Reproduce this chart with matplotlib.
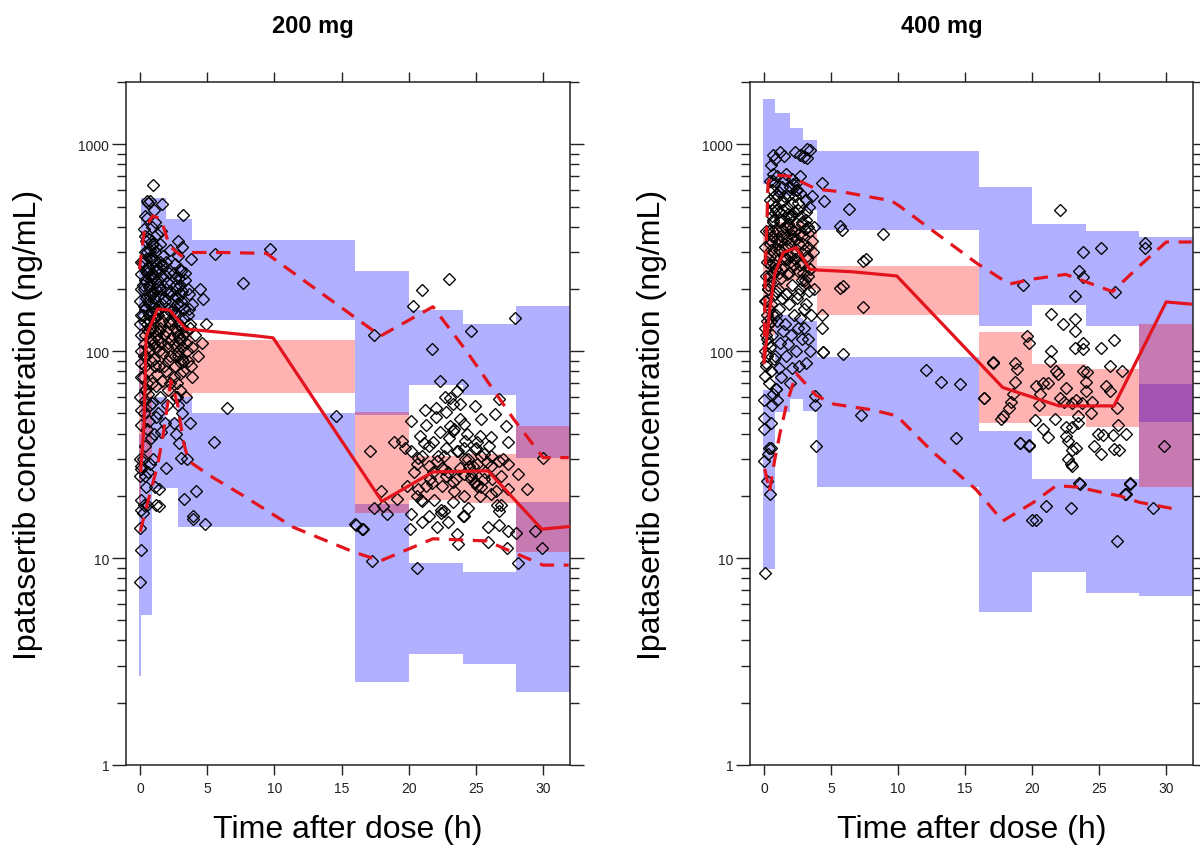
import matplotlib
matplotlib.use("Agg")
import matplotlib.pyplot as plt
from matplotlib.ticker import LogLocator, NullFormatter, FixedLocator, FixedFormatter

plt.rcParams['font.family'] = ['Liberation Sans', 'DejaVu Sans']

# ---------------- 200 mg ----------------
bin_edges_200 = [-0.05, 0.08, 0.85, 1.9, 2.85, 3.9, 16, 20, 24, 28, 32]
# 95% CI of the simulated 95th percentile
up_hi_200 = [270, 553, 553, 434, 434, 344, 245, 158, 135, 165]
up_lo_200 = [60, 150, 160, 150, 140, 141, 49, 69, 61.5, 30.6]
# 95% CI of the simulated median
md_hi_200 = [110, 130, 150, 140, 130, 113, 51, 31, 32, 43.6]
md_lo_200 = [18, 30, 65, 60, 60, 63, 16.6, 19, 18.5, 10.7]
# 95% CI of the simulated 5th percentile
lo_hi_200 = [40, 60, 60, 47, 60, 50, 18.2, 9.5, 8.6, 18.6]
lo_lo_200 = [2.7, 5.3, 21.5, 21.8, 14.1, 14.1, 2.53, 3.44, 3.07, 2.25]

# observed percentiles
med_t_200 = [0.05, 0.3, 0.45, 1.3, 2.2, 3.4, 6.2, 8.7, 9.9, 18.0, 21.8, 25.9, 29.9, 31.9]
med_c_200 = [26.5, 45, 118, 160, 158, 128, 123, 118.5, 116, 18.8, 26.1, 26.4, 13.8, 14.2]
p95_t_200 = [-0.05, 0.32, 0.94, 1.56, 2.18, 3.05, 3.9, 6.1, 9.4, 17.9, 21.8, 24.3, 27.8, 30.0, 31.9]
p95_c_200 = [249, 388, 451, 434, 323, 289, 300, 300, 297, 118.5, 164, 100, 47, 30.6, 30.6]
p05_t_200 = [0.0, 0.6, 1.3, 1.7, 2.3, 2.8, 3.2, 3.6, 5.2, 7.7, 11.4, 15.9, 17.9, 21.8, 25.8, 30.0, 31.9]
p05_c_200 = [13.4, 19, 28, 39, 72, 55, 37, 29.5, 25, 20, 14.1, 10.7, 9.7, 12.4, 12.1, 9.25, 9.25]

# observed concentrations, first hours after dose
early_t_200 = [
    0.02, 0.05, 0.0, 0.08, 0.03, 0.0, 0.06, 0.1, 0.01, 0.04, 0.09, 0.0, 0.07, 0.03, 0.1, 0.05, 0.0, 0.08, 0.02, 0.06, 0.04, 0.1,
    0.22, 0.3, 0.45, 0.35, 0.25, 0.4, 0.5, 0.28, 0.33, 0.47, 0.21, 0.38, 0.44, 0.26, 0.36, 0.49, 0.23, 0.31, 0.42, 0.27, 0.39, 0.46, 0.24, 0.34, 0.41, 0.29, 0.35, 0.48,
    0.55, 0.6, 0.7, 0.82, 0.65, 0.75, 0.58, 0.88, 0.62, 0.78, 0.68, 0.85, 0.57, 0.72, 0.8, 0.63, 0.9, 0.66, 0.77, 0.59, 0.83, 0.71, 0.64, 0.86, 0.5, 0.6, 0.7,
    1.19, 1.1, 0.95, 1.05, 1.2, 0.92, 1.15, 1.25, 1.0, 1.08, 1.22, 0.97, 1.12, 1.28, 1.02, 1.18, 0.94, 1.24, 1.06, 1.14, 0.99, 1.27, 1.1, 1.03, 0.99,
    1.44, 1.44, 1.56, 1.35, 1.5, 1.62, 1.4, 1.7, 1.55, 1.38, 1.66, 1.48, 1.75, 1.42, 1.6, 1.52, 1.68, 1.46, 1.58, 1.6,
    1.94, 1.85, 2.0, 2.1, 1.9, 2.2, 2.05, 1.95, 2.15, 2.3, 1.88, 2.25, 2.02, 2.12, 1.92, 2.2,
    3.05, 2.9, 2.7, 2.55, 3.1, 2.8, 2.65, 3.0, 2.75, 2.95, 2.6, 3.15, 2.85, 2.5, 3.05, 2.72, 2.9, 3.2, 2.62, 2.98, 2.78, 3.1, 2.68, 2.88, 3.02, 2.58, 2.82, 3.12, 2.85, 3.2,
    3.3, 3.92, 3.92, 3.5, 3.7, 3.4, 3.85, 3.6, 3.45, 3.75, 3.55, 3.9, 3.65, 3.35, 3.8,
    4.84, 4.17, 5.5, 6.45, 4.3, 4.6, 4.1, 4.9, 4.7, 4.47, 5.6,
    0.25, 0.4, 0.55, 0.7, 0.85, 1.0, 1.15, 1.3, 1.45, 0.3, 0.45, 0.6, 0.75, 0.9, 1.05, 1.2, 1.35, 1.5, 0.35, 0.5, 0.65,
    0.8, 0.95, 1.1, 1.25, 1.4, 0.28, 0.42, 0.58, 0.72, 0.88, 1.02, 1.18, 1.32, 1.48, 0.38, 0.52, 0.68, 0.82, 0.98, 1.12, 1.28,
    2.45, 2.6, 2.75, 2.9, 3.05, 3.2, 2.5, 2.65, 2.8, 2.95, 3.1, 3.25, 2.55, 2.7, 2.85, 3.0, 3.15, 2.48, 2.62, 2.78, 2.92,
    3.08, 3.22, 2.58, 2.72, 2.88, 3.02, 3.18,
    1.65, 1.8, 1.95, 2.1, 2.25, 1.7, 1.85, 2.0, 2.15, 2.3, 1.75, 1.9, 2.05, 2.2,
    3.35, 3.5, 3.65, 3.8, 3.45, 3.6, 3.75, 3.9,
]
early_c_200 = [
    7.7, 11, 14, 17, 19, 25, 27, 28, 30, 44, 52, 60, 75, 88, 100, 120, 135, 150, 175, 200, 235, 270,
    16.6, 18, 22, 25, 30, 35, 42, 50, 58, 66, 75, 85, 95, 108, 120, 135, 150, 165, 180, 200, 220, 245, 270, 300, 340, 390, 450, 530,
    18, 26, 28.5, 38, 46, 55, 62, 70, 80, 90, 100, 112, 125, 140, 155, 170, 190, 210, 230, 255, 280, 310, 350, 400, 440, 520, 532,
    18, 22, 30, 40, 48, 56, 68, 78, 92, 105, 118, 130, 145, 160, 180, 200, 225, 250, 275, 300, 330, 370, 420, 480, 636,
    21.5, 17.9, 40.6, 50, 60, 72, 85, 98, 110, 125, 140, 160, 180, 205, 230, 260, 290, 330, 380, 513,
    27.4, 45, 55, 65, 80, 95, 110, 125, 140, 155, 175, 195, 215, 240, 270, 310,
    30.6, 36, 40, 45, 50, 55, 60, 65, 70, 78, 85, 92, 100, 108, 115, 125, 135, 145, 155, 168, 180, 195, 210, 225, 245, 265, 290, 320, 341, 456,
    19.3, 16, 15.5, 30, 45, 60, 75, 90, 110, 130, 150, 170, 190, 220, 280,
    14.6, 21.1, 36.3, 53.4, 95, 110, 120, 135, 178, 199, 294,
    210, 160, 240, 130, 190, 110, 260, 150, 200, 95, 280, 175, 115, 240, 145, 320, 185, 130, 360, 70, 205,
    290, 165, 125, 215, 100, 140, 250, 105, 185, 330, 230, 155, 115, 270, 65, 300, 150, 220, 195, 85, 245,
    160, 130, 200, 110, 175, 90, 240, 150, 95, 210, 130, 160, 75, 185, 120, 250, 105, 140, 95, 170, 115,
    190, 80, 225, 60, 135, 88, 120,
    170, 120, 230, 90, 135, 260, 150, 105, 190, 115, 85, 200, 160, 70,
    240, 100, 160, 85, 125, 200, 135, 105,
]
# observed concentrations, later samples
late_t_200 = [
    7.65, 9.7, 14.6, 16.0, 16.1, 16.5, 16.6, 17.1, 17.25, 17.4, 17.4, 17.9, 18.1, 18.4, 18.9, 19.1, 19.5, 19.7, 19.9, 20.1,
    20.2, 20.2, 20.2, 20.35, 20.6, 20.6, 20.7, 20.7, 20.8, 21.0, 21.0, 21.0, 21.0, 21.3, 21.5, 21.5, 21.5, 21.7, 21.8, 21.8,
    22.1, 22.1, 22.3, 22.3, 22.4, 22.5, 22.5, 22.6, 22.8, 22.8, 22.8, 22.9, 23.0, 23.1, 23.1, 23.3, 23.3, 23.3, 23.6, 23.6,
    23.6, 23.7, 23.8, 23.8, 23.95, 24.1, 24.1, 24.1, 24.1, 24.3, 24.4, 24.4, 24.6, 24.6, 24.9, 24.9, 24.9, 25.1, 25.1, 25.1,
    25.4, 25.4, 25.6, 25.9, 25.9, 26.1, 26.1, 26.1, 26.4, 26.7, 26.7, 26.7, 26.7, 27.2, 27.3, 27.4, 27.4, 27.4, 27.4, 27.9,
    28.0, 28.1, 28.1, 28.8, 29.4, 29.9, 30.0, 22.0, 23.4, 24.7, 25.3, 21.2, 26.9, 22.6, 24.2,
    20.4, 20.9, 21.3, 21.7, 22.2, 22.6, 23.0, 23.4, 23.8, 24.2, 24.6, 25.0, 25.4, 25.8, 26.2, 26.6, 27.0, 20.6, 21.1, 21.6,
    22.0, 22.4, 22.9, 23.3, 23.7, 24.1, 24.5, 24.9, 25.3, 25.7, 26.1, 26.5, 26.9, 21.9, 23.5, 24.8, 25.6, 22.7, 24.0, 26.0,
]
late_c_200 = [
    213, 311, 48.4, 14.6, 14.5, 13.8, 13.8, 33, 9.7, 120, 17.4, 21.1, 17.9, 16.3, 36.3, 19.3, 37, 34.2, 22.3, 13.8,
    46.1, 33, 16.3, 165, 28.5, 9.0, 30.6, 21.5, 39, 31.3, 18.9, 14.9, 198, 22.3, 34.8, 28, 16, 103, 36.3, 26,
    29.5, 14.1, 72, 40.5, 16.5, 27.4, 22.3, 16.9, 50.6, 34.2, 25, 14.9, 223, 59.6, 43.6, 55.5, 23.2, 18.6, 64, 33,
    13.1, 11.7, 55.5, 27.4, 69, 44.4, 34.2, 25.5, 16, 39.8, 30.1, 17.4, 24.1, 125, 54.4, 33.6, 23.2, 36.3, 28.5, 22.3,
    46.9, 31.3, 24.1, 14.1, 11.9, 38.3, 28, 20.4, 49.5, 58.7, 29.5, 16.9, 14.4, 43.6, 11.2, 36.3, 28.5, 21.5, 13.5, 144,
    13.2, 25.5, 9.5, 21.5, 13.5, 11.2, 30.6, 48, 42, 26, 20, 52, 18, 31, 37,
    26, 19, 44, 23, 31, 27, 38, 21, 47, 30, 25, 34, 22, 29, 24, 18, 30, 20, 36, 24,
    53, 17, 26, 41, 33, 20, 28, 23, 39, 26, 31, 21, 25, 19, 24, 28, 32, 60, 16, 35,
]

# ---------------- 400 mg ----------------
bin_edges_400 = [-0.05, 0.85, 1.94, 2.88, 3.92, 16, 20, 24, 28, 32]
up_hi_400 = [1650, 1413, 1194, 1045, 929, 625, 411, 379, 357]
up_lo_400 = [640, 560, 560, 480, 385, 133, 167, 133, 45.6]
md_hi_400 = [390, 420, 420, 380, 257, 124, 86.5, 81.9, 135]
md_lo_400 = [120, 200, 220, 200, 149, 45.2, 48.7, 42.8, 22]
lo_hi_400 = [65, 150, 145, 140, 93.3, 41.2, 24.1, 24.1, 69.3]
lo_lo_400 = [8.85, 50.6, 59, 51.5, 22, 5.46, 8.59, 6.78, 6.53]

med_t_400 = [0.0, 0.45, 0.82, 1.44, 2.4, 3.4, 3.9, 6.6, 9.9, 17.8, 22.0, 26.1, 30.0, 31.8]
med_c_400 = [88, 165, 240, 300, 317, 249, 247, 242, 231, 66.8, 54.4, 54.4, 173, 169]
p95_t_400 = [0.0, 0.1, 0.3, 0.6, 1.8, 2.9, 3.9, 5.9, 9.5, 10.1, 15.8, 18.3, 20.0, 22.5, 23.8, 26.0, 28.0, 30.0, 31.9]
p95_c_400 = [90, 250, 650, 710, 703, 653, 607, 588, 533, 503, 268, 211, 223, 235, 219, 194, 258, 337, 337]
p05_t_400 = [0.05, 0.4, 0.8, 1.2, 1.7, 2.4, 3.9, 5.2, 8.1, 9.9, 12.6, 15.8, 17.8, 20.1, 21.8, 23.5, 25.0, 26.5, 28.0, 31.0]
p05_c_400 = [27, 21, 30, 40.5, 56, 78, 61, 55.5, 52, 48.7, 32.5, 21.5, 15.1, 18.6, 22.4, 22, 20.9, 20, 18.6, 17.1]

early_t_400 = [
    0.1, 0.45, 0.2, 0.55, 0.3, 0.0, 0.0, 0.0, 0.0, 0.1, 0.9, 0.15, 0.05, 0.25, 0.1, 0.2, 0.05, 0.28, 0.12, 0.22, 0.08, 0.18,
    0.35, 0.5, 0.62, 0.7, 0.4, 0.55, 0.75, 0.45, 0.6, 0.38, 0.68, 0.52, 0.78, 0.42, 0.65, 0.58, 0.72, 0.48, 0.36, 0.66, 0.56, 0.44, 0.6, 0.7, 0.5, 0.64,
    1.0, 0.9, 1.3, 1.1, 0.85, 1.2, 1.4, 0.95, 1.15, 1.35, 1.05, 1.25, 0.88, 1.45, 1.12, 1.0, 1.32, 1.22, 0.92, 1.38, 1.08, 0.45, 0.7, 0.82, 1.2,
    1.9, 2.1, 1.6, 1.75, 2.0, 1.55, 2.2, 1.85, 1.65, 2.05, 1.7, 2.25, 1.95, 1.58, 2.15, 1.8, 2.0, 1.68, 2.28, 1.9, 2.1, 1.5, 2.3,
    2.6, 2.4, 2.8, 2.5, 2.7, 2.95, 2.45, 2.65, 2.85, 2.55, 2.75, 2.4, 2.9, 2.6, 2.8, 2.1, 2.5, 2.7, 2.35, 2.95, 2.65,
    3.1, 3.4, 3.25, 3.0, 3.5, 3.15, 3.35, 3.05, 3.45, 3.2, 3.55, 3.3, 3.1, 3.6, 3.2, 3.4, 3.2,
    3.9, 3.8, 3.8, 4.4, 4.3, 4.3, 3.7, 3.65, 3.75, 4.5, 4.3,
    5.9, 7.4, 5.7, 5.9, 7.4, 7.6, 8.9, 5.8, 5.7, 6.3, 7.2, 4.4, 12.1, 13.2, 14.6, 14.3,
    0.15, 0.3, 0.45, 0.6, 0.75, 0.2, 0.35, 0.5, 0.65, 0.8, 0.25, 0.4, 0.55, 0.7, 0.12, 0.28, 0.42, 0.58, 0.72, 0.18, 0.32, 0.48, 0.62, 0.78,
    0.85, 1.0, 1.15, 1.3, 1.45, 0.9, 1.05, 1.2, 1.35, 1.5, 0.95, 1.1, 1.25, 1.4, 1.55, 0.88, 1.02, 1.18, 1.32, 1.48,
    1.6, 1.75, 1.9, 2.05, 2.2, 2.35, 1.65, 1.8, 1.95, 2.1, 2.25, 1.7, 1.85, 2.0, 2.15, 2.3, 1.62, 1.78, 1.92, 2.08,
    2.4, 2.55, 2.7, 2.85, 3.0, 3.15, 3.3, 3.45, 2.45, 2.6, 2.75, 2.9, 3.05, 3.2, 3.35, 2.5, 2.65, 2.8, 2.95, 3.1, 3.25, 3.4,
]
early_c_400 = [
    8.5, 20.5, 23.5, 34.2, 32, 29.5, 42, 47.5, 58, 76, 66, 88, 100, 115, 130, 150, 175, 200, 230, 270, 320, 380,
    34, 45, 55, 62, 70, 80, 92, 105, 120, 135, 150, 170, 190, 215, 240, 270, 300, 340, 380, 430, 480, 540, 600, 666, 790, 890,
    58, 66, 75, 83, 95, 110, 125, 140, 160, 180, 200, 225, 250, 280, 310, 350, 390, 430, 480, 530, 590, 666, 720, 850, 915,
    70, 83, 95, 108, 120, 135, 150, 170, 190, 210, 235, 260, 290, 320, 360, 400, 450, 500, 560, 620, 680, 880, 915,
    85, 100, 115, 130, 145, 160, 180, 200, 220, 245, 270, 300, 330, 370, 410, 460, 520, 580, 650, 870, 890,
    88, 100, 115, 130, 150, 170, 195, 220, 250, 290, 340, 400, 470, 560, 860, 938, 945,
    34.7, 55, 61, 98.6, 130, 149, 200, 300, 400, 532, 649,
    97, 163, 203, 207, 274, 280, 370, 386, 404, 484, 49, 98.6, 81, 71.2, 69.7, 38.1,
    120, 210, 330, 450, 560, 95, 160, 260, 380, 500, 140, 230, 310, 420, 175, 110, 290, 360, 640, 85, 200, 140, 520, 250,
    260, 380, 470, 340, 560, 150, 330, 420, 620, 290, 700, 240, 360, 480, 400, 195, 560, 310, 250, 680,
    280, 410, 330, 520, 380, 600, 190, 560, 440, 300, 470, 350, 240, 390, 640, 280, 720, 460, 270, 350,
    350, 480, 260, 420, 310, 540, 230, 380, 600, 330, 450, 240, 390, 280, 500, 190, 700, 360, 210, 430, 320, 250,
]
late_t_400 = [
    16.4, 16.4, 17.1, 17.1, 17.7, 17.8, 18.3, 18.4, 18.6, 18.75, 18.75, 18.9, 19.1, 19.1, 19.3, 19.6, 19.8, 19.8, 19.8, 20.0,
    20.2, 20.3, 20.3, 20.5, 20.8, 20.8, 21.0, 21.2, 21.2, 21.3, 21.4, 21.4, 21.7, 21.8, 21.9, 22.1, 22.1, 22.3, 22.4, 22.5,
    22.5, 22.5, 22.7, 22.7, 22.9, 22.9, 23.0, 23.0, 23.0, 23.0, 23.2, 23.2, 23.2, 23.2, 23.3, 23.3, 23.4, 23.4, 23.5, 23.5,
    23.6, 23.7, 23.8, 23.8, 23.8, 23.8, 23.8, 24.0, 24.0, 24.1, 24.5, 24.6, 24.9, 25.1, 25.1, 25.1, 25.3, 25.5, 25.8, 25.8,
    26.0, 26.1, 26.1, 26.2, 26.3, 26.3, 26.4, 26.5, 26.7, 26.9, 27.0, 27.0, 27.3, 27.3, 28.4, 28.4, 29.0, 29.8, 20.6, 24.4,
]
late_c_400 = [
    59.6, 59.6, 88.9, 88, 47, 48.4, 53, 57, 62, 88, 71, 82, 35.8, 35.9, 208, 119, 110, 35.2, 35, 15.2,
    46.7, 15.3, 68, 55, 70, 42.2, 17.9, 70, 38.3, 90, 152, 100, 47, 80.5, 78, 482, 59.6, 135, 57, 66.5,
    39, 43, 36.8, 30, 17.4, 28.5, 56, 43, 33.2, 27.9, 185, 143, 125, 104, 34.2, 58.4, 48.7, 45.2, 243, 23,
    22.9, 56, 300, 228, 110, 102, 80.5, 71, 64.5, 79, 57, 35, 40, 317, 104, 31.8, 39.5, 68, 85, 64.5,
    39.5, 113, 33.8, 194, 53.4, 12.1, 44, 33.2, 80.5, 20.3, 40, 20.4, 22.9, 23, 335, 317, 17.5, 34.7, 62, 50,
]

panels = [
    ("200 mg", bin_edges_200, up_hi_200, up_lo_200, md_hi_200, md_lo_200, lo_hi_200, lo_lo_200,
     med_t_200, med_c_200, p95_t_200, p95_c_200, p05_t_200, p05_c_200,
     early_t_200 + late_t_200, early_c_200 + late_c_200),
    ("400 mg", bin_edges_400, up_hi_400, up_lo_400, md_hi_400, md_lo_400, lo_hi_400, lo_lo_400,
     med_t_400, med_c_400, p95_t_400, p95_c_400, p05_t_400, p05_c_400,
     early_t_400 + late_t_400, early_c_400 + late_c_400),
]

x_ticks = [0, 5, 10, 15, 20, 25, 30]
y_ticks = [1, 10, 100, 1000]
y_tick_labels = ["1", "10", "100", "1000"]

BLUE = (0.0, 0.0, 1.0, 0.31)
PINK = (1.0, 0.0, 0.0, 0.30)
LINE_RED = "#E3141E"

fig = plt.figure(figsize=(12, 8.54), dpi=100)
W, H = 1200.0, 854.0
axes_px = [(126, 570), (750, 1193)]
title_x = [313, 942]

for (x0, x1), tx, p in zip(axes_px, title_x, panels):
    (title, edges, uh, ul, mh, ml, lh, ll,
     mt, mc, ht, hc, lt, lc, ot, oc) = p
    ax = fig.add_axes([x0 / W, 1 - 766 / H, (x1 - x0) / W, (766 - 83) / H])
    ax.set_yscale("log")
    widths = [b - a for a, b in zip(edges[:-1], edges[1:])]
    lefts = edges[:-1]
    for hi, lo in ((uh, ul), (lh, ll)):
        ax.bar(lefts, [h - l for h, l in zip(hi, lo)], bottom=lo, width=widths,
               align="edge", color=BLUE, linewidth=0, zorder=1)
    ax.bar(lefts, [h - l for h, l in zip(mh, ml)], bottom=ml, width=widths,
           align="edge", color=PINK, linewidth=0, zorder=1)

    ax.plot(ot, oc, linestyle="none", marker="D", markersize=5.8,
            markerfacecolor="none", markeredgecolor="black", markeredgewidth=0.95, zorder=3)

    ax.plot(mt, mc, color=LINE_RED, lw=2.3, zorder=4)
    for t, c in ((ht, hc), (lt, lc)):
        ax.plot(t, c, color=LINE_RED, lw=2.3, dashes=(4.5, 3.0), zorder=4)

    ax.set_xlim(-1.05, 32.0)
    ax.set_ylim(1, 2000)
    ax.xaxis.set_major_locator(FixedLocator(x_ticks))
    ax.yaxis.set_major_locator(FixedLocator(y_ticks))
    ax.yaxis.set_major_formatter(FixedFormatter(y_tick_labels))
    ax.yaxis.set_minor_locator(LogLocator(base=10, subs=[2, 3, 4, 5, 6, 7, 8, 9]))
    ax.yaxis.set_minor_formatter(NullFormatter())
    ax.tick_params(axis="x", which="major", direction="out", length=7.5, width=1.0,
                   top=True, labeltop=False, labelsize=10, pad=4, colors="#222222")
    ax.tick_params(axis="y", which="major", direction="out", length=10, width=1.0,
                   right=True, labelright=False, labelsize=10, pad=2, colors="#222222")
    ax.tick_params(axis="y", which="minor", direction="out", length=6.5, width=1.0,
                   right=True, colors="#222222")
    for s in ax.spines.values():
        s.set_linewidth(1.1)
        s.set_color("#222222")

    ax.set_xlabel("Time after dose (h)", fontsize=23)
    ax.xaxis.set_label_coords(0.5, -0.072)
    ax.set_ylabel("Ipatasertib concentration (ng/mL)", fontsize=23)
    ax.yaxis.set_label_coords(-0.187, 0.5)
    fig.text(tx / W, 1 - 27 / H, title, ha="center", va="center",
             fontsize=17, fontweight="bold")

fig.savefig("out.png", dpi=100)
